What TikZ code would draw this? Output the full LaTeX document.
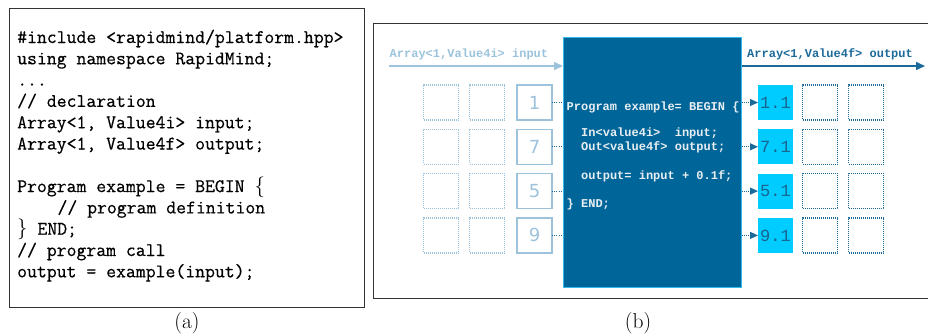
\documentclass[tikz,border=0pt]{standalone}
\usepackage{fontspec}
\newfontfamily\lmono{Liberation Mono}
\newfontfamily\dsans{DejaVu Sans}
\newfontfamily\codefont{Latin Modern Mono}[FakeBold=0.5]
\usetikzlibrary{arrows.meta}
\definecolor{progblue}{HTML}{006699}
\definecolor{inblue}{HTML}{9CC3DB}
\definecolor{outblue}{HTML}{1B6A9A}
\definecolor{cyanfill}{HTML}{00CCFF}
\definecolor{progedge}{HTML}{33BBEE}
\definecolor{progtext}{HTML}{E8EEF2}
\definecolor{outnum}{HTML}{19638F}
\definecolor{panelgray}{HTML}{333333}
\begin{document}
\begin{tikzpicture}[x=1pt,y=-1pt,
  codeline/.style={anchor=base west, inner sep=0pt, font=\fontsize{19.2}{21}\selectfont\codefont},
  caption/.style={anchor=base, inner sep=0pt, font=\fontsize{21.5}{24}\selectfont\rmfamily},
  panel/.style={draw=panelgray, line width=0.9pt, inner sep=0pt, anchor=north west},
  arrlabel/.style={anchor=base west, inner sep=0pt, font=\lmono\bfseries\fontsize{12}{14}\selectfont},
  progline/.style={anchor=base west, inner sep=0pt, text=progtext, font=\lmono\bfseries\fontsize{12}{14}\selectfont},
  cell/.style={minimum size=35pt, inner sep=0pt, outer sep=0pt},
  indot/.style={cell, draw=inblue, dash pattern=on 1pt off 1pt, line width=1.2pt},
  insolid/.style={cell, draw=inblue, line width=1.2pt, text=inblue, font=\dsans\fontsize{18}{20}\selectfont},
  outsolid/.style={cell, fill=cyanfill, text=outnum, font=\lmono\fontsize{17}{19}\selectfont},
  outdot/.style={cell, draw=outblue, dash pattern=on 1pt off 1pt, line width=1.2pt},
  feed/.style={draw=outblue, line width=1.1pt, dash pattern=on 1pt off 1.2pt},
  feedarrow/.style={feed, -{Triangle[length=8pt,width=7pt]}},
]
\useasboundingbox (0,0) rectangle (928,333);

% ---------- panel (a) ----------
\node[panel, minimum width=355.5pt, minimum height=299pt] (panelA) at (8.5,7.5) {};
\node[codeline] (l1) at (17,43) {\#include <rapidmind/platform.hpp>};
\node[codeline] (l2) at (17,64.3) {using namespace RapidMind;};
\node[codeline] (l3) at (17,85.6) {...};
\node[codeline] (l4) at (17,106.9) {// declaration};
\node[codeline] (l5) at (17,128.2) {Array<1, Value4i> input;};
\node[codeline] (l6) at (17,149.5) {Array<1, Value4f> output;};
\node[codeline] (l8) at (17,192.1) {Program example = BEGIN $\{$};
\node[codeline] (l9) at (17,213.4) {\hspace{2.1em}// program definition};
\node[codeline] (l10) at (17,234.7) {$\}$ END;};
\node[codeline] (l11) at (17,256) {// program call};
\node[codeline] (l12) at (17,277.3) {output = example(input);};
\node[caption] (capA) at (187,328) {(a)};

% ---------- panel (b) ----------
\node[panel, minimum width=570pt, minimum height=275pt] (panelB) at (373,23) {};
\node[draw=progedge, fill=progblue, line width=0.8pt, anchor=north west,
      minimum width=178pt, minimum height=250pt, inner sep=0pt] (prog) at (563,37) {};

\node[arrlabel, text=inblue] (inlabel) at (389.5,57) {Array<1,Value4i> input};
\coordinate (inStart) at (389,66);
\draw[draw=inblue, line width=1.5pt, -{Triangle[length=9pt,width=8pt]}] (inStart) -- (inStart -| prog.west);

\node[arrlabel, text=outblue] (outlabel) at (747,57) {Array<1,Value4f> output};
\coordinate (outEnd) at (925,66);
\draw[draw=outblue, line width=1.5pt, -{Triangle[length=9pt,width=8pt]}] (prog.east |- outEnd) -- (outEnd);

\node[progline] (p1) at (566.5,110) {Program example= BEGIN \{};
\node[progline] (p2) at (581,136) {In<value4i>~~input;};
\node[progline] (p3) at (581,150) {Out<value4f>~output;};
\node[progline] (p4) at (581,179) {output=~input~+~0.1f;};
\node[progline] (p5) at (566.5,207) {\}~END;};

\foreach \v/\w [count=\i from 0] in {1/1.1,7/7.1,5/5.1,9/9.1} {
  \pgfmathsetmacro\yy{102.5+44.3*\i}
  \node[indot]   (inA\i) at (441,\yy) {};
  \node[indot]   (inB\i) at (487,\yy) {};
  \node[insolid] (inC\i) at (534.5,\yy) {\v};
  \node[outsolid](outA\i) at (775.5,\yy) {\w};
  \node[outdot]  (outB\i) at (820,\yy) {};
  \node[outdot]  (outC\i) at (866,\yy) {};
  \draw[feed] (inC\i.east) -- (inC\i.east -| prog.west);
  \draw[feedarrow] (prog.east |- outA\i.west) -- (outA\i.west);
}

\node[caption] (capB) at (638,328) {(b)};
\end{tikzpicture}
\end{document}
